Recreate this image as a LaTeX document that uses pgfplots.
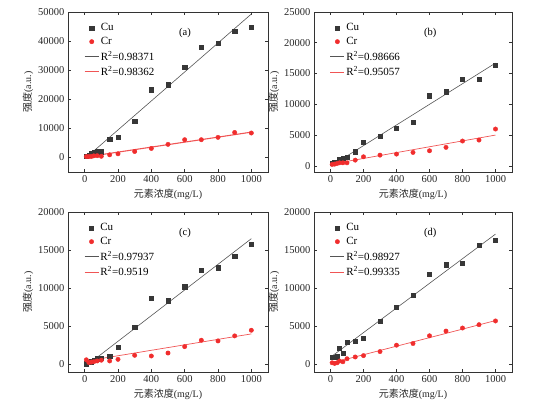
\documentclass[border=0pt]{standalone}
\usepackage{pgfplots}
\pgfplotsset{compat=1.18}
\usepackage{pgfplotstable}
\usepackage{fontspec}
\setmainfont{Liberation Serif}
\newfontfamily\cjk{Noto Sans CJK SC}

\definecolor{cugray}{RGB}{55,55,55}
\definecolor{culine}{RGB}{85,85,85}
\definecolor{crred}{RGB}{240,45,45}
\definecolor{crline}{RGB}{240,85,85}

\pgfplotstableread{
x cu cr
10 350 300
25 900 300
40 1500 350
55 1900 550
75 2000 600
100 2000 400
150 6200 900
200 7000 1250
300 12500 2050
400 23300 3100
500 25000 4500
600 31000 6100
700 38000 6100
800 39400 6900
900 43400 8600
1000 44800 8400
}\dataA

\pgfplotstableread{
x cu cr
10 390 230
25 550 280
40 650 390
55 1040 490
75 1200 490
100 1370 490
150 2300 930
200 3800 1470
300 4850 1740
400 6090 1910
500 7070 2180
600 11400 2450
700 12060 3000
800 14080 4030
900 14080 4190
1000 16370 5980
}\dataB

\pgfplotstableread{
x cu cr
10 100 600
25 250 250
40 340 300
55 500 350
75 750 450
100 800 550
150 1100 450
200 2290 660
300 4920 1190
400 8700 1100
500 8350 1490
600 10200 2330
700 12310 3170
800 12700 3080
900 14150 3740
1000 15780 4480
}\dataC

\pgfplotstableread{
x cu cr
10 970 210
25 970 130
40 1000 210
55 2150 440
75 1500 340
100 2870 740
150 3050 970
200 3440 1150
300 5700 1680
400 7510 2520
500 9100 2740
600 11830 3750
700 13070 4370
800 13330 4770
900 15590 5210
1000 16250 5700
}\dataD

\pgfplotsset{panel/.style={
  scale only axis, width=200pt, height=160pt, anchor=south west,
  xmin=-100, xmax=1100, xtick={0,200,...,1000},
  tick align=inside, xtick pos=both, ytick pos=both,
  xticklabel pos=lower, yticklabel pos=left,
  major tick length=3pt,
  scaled ticks=false,
  /pgf/number format/1000 sep={},
  /pgf/number format/assume math mode=true,
  tick label style={font=\fontsize{10.5}{12}\selectfont, text=black!85},
  label style={font=\fontsize{10}{12}\selectfont, text=black!85},
  xlabel={{\cjk 元素浓度}(mg/L)},
  ylabel={{\cjk 强度}(a.u.)},
  ylabel style={yshift=-2pt},
  axis line style={line width=0.7pt, black!80},
  every tick/.style={black!80, line width=0.6pt},
  legend style={draw=none, fill=none, at={(0.075,0.945)}, anchor=north west,
    font=\fontsize{11}{12}\selectfont, row sep=2pt, inner sep=1pt,
    nodes={inner sep=1.5pt}},
  legend image code/.code={\draw[mark repeat=2,mark phase=2] plot coordinates {(0pt,0pt) (7pt,0pt) (14pt,0pt)};},
  legend cell align=left,
}}

\begin{document}
\begin{tikzpicture}
\useasboundingbox (0,0) rectangle (554pt,401pt);

% (a)
\begin{axis}[panel, at={(68pt,229pt)}, ymin=-5000, ymax=50000, ytick={0,10000,...,50000}]
\addplot[only marks, mark=square*, mark size=2.1pt, cugray] table[x=x,y=cu]{\dataA};
\addplot[only marks, mark=*, mark size=2.2pt, crred] table[x=x,y=cr]{\dataA};
\addplot[culine, line width=0.6pt] coordinates {(10,0) (1000,49300)};
\addplot[crline, line width=1.1pt] coordinates {(10,200) (1000,8700)};
\legend{Cu, Cr, R\textsuperscript{2}=0.98371, R\textsuperscript{2}=0.98362}
\node[font=\fontsize{10.5}{12}\selectfont] at (rel axis cs:0.585,0.87) {(a)};
\end{axis}

% (b)
\begin{axis}[panel, at={(314pt,229pt)}, width=198pt, ymin=-1000, ymax=25000, ytick={0,5000,...,25000}]
\addplot[only marks, mark=square*, mark size=2.1pt, cugray] table[x=x,y=cu]{\dataB};
\addplot[only marks, mark=*, mark size=2.2pt, crred] table[x=x,y=cr]{\dataB};
\addplot[culine, line width=0.6pt] coordinates {(10,100) (1000,16700)};
\addplot[crline, line width=0.7pt] coordinates {(10,300) (1000,5000)};
\legend{Cu, Cr, R\textsuperscript{2}=0.98666, R\textsuperscript{2}=0.95057}
\node[font=\fontsize{10.5}{12}\selectfont] at (rel axis cs:0.587,0.867) {(b)};
\end{axis}

% (c)
\begin{axis}[panel, at={(68pt,29pt)}, ymin=-1000, ymax=20000, ytick={0,5000,...,20000}]
\addplot[only marks, mark=square*, mark size=2.1pt, cugray] table[x=x,y=cu]{\dataC};
\addplot[only marks, mark=*, mark size=2.2pt, crred] table[x=x,y=cr]{\dataC};
\addplot[culine, line width=0.6pt] coordinates {(20,0) (1000,16500)};
\addplot[crline, line width=0.7pt] coordinates {(10,450) (1000,4000)};
\legend{Cu, Cr, R\textsuperscript{2}=0.97937, R\textsuperscript{2}=0.9519}
\node[font=\fontsize{10.5}{12}\selectfont] at (rel axis cs:0.585,0.87) {(c)};
\end{axis}

% (d)
\begin{axis}[panel, at={(314pt,29pt)}, width=198pt, ymin=-1000, ymax=20000, ytick={0,5000,...,20000}]
\addplot[only marks, mark=square*, mark size=2.1pt, cugray] table[x=x,y=cu]{\dataD};
\addplot[only marks, mark=*, mark size=2.2pt, crred] table[x=x,y=cr]{\dataD};
\addplot[culine, line width=0.6pt] coordinates {(10,1100) (1000,17100)};
\addplot[crline, line width=0.7pt] coordinates {(10,200) (1000,5750)};
\legend{Cu, Cr, R\textsuperscript{2}=0.98927, R\textsuperscript{2}=0.99335}
\node[font=\fontsize{10.5}{12}\selectfont] at (rel axis cs:0.587,0.867) {(d)};
\end{axis}
\end{tikzpicture}
\end{document}
